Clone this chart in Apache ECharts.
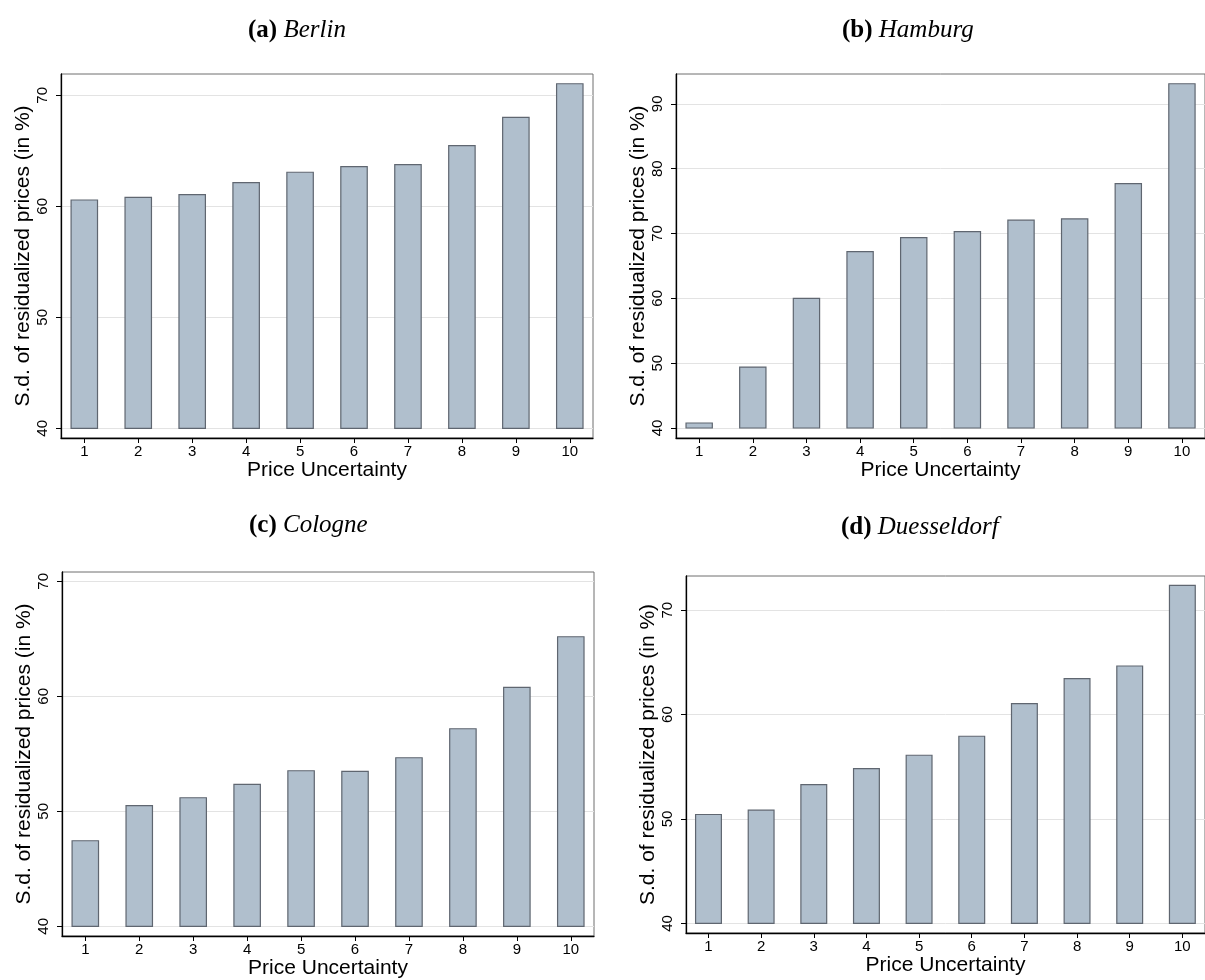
<!DOCTYPE html>
<html>
<head>
<meta charset="utf-8">
<script src="https://cdn.jsdelivr.net/npm/echarts@6/dist/echarts.min.js"></script>
<style>
html,body{margin:0;padding:0;background:#fff;}
#chart{width:1205px;height:980px;}
</style>
</head>
<body>
<div id="chart"></div>
<script>
// ---- Data ----
const categories = [1, 2, 3, 4, 5, 6, 7, 8, 9, 10];
const berlin      = [60.57, 60.81, 61.05, 62.13, 63.07, 63.57, 63.75, 65.46, 68.02, 71.04];
const hamburg     = [40.77, 49.40, 60.00, 67.21, 69.37, 70.29, 72.05, 72.25, 77.69, 93.10];
const cologne     = [47.44, 50.49, 51.18, 52.35, 53.53, 53.48, 54.66, 57.18, 60.78, 65.18];
const duesseldorf = [50.43, 50.85, 53.30, 54.83, 56.11, 57.93, 61.05, 63.44, 64.66, 72.38];
const yTicksBerlin = [40, 50, 60, 70];
const yTicksHamburg = [40, 50, 60, 70, 80, 90];
const yTicksCologne = [40, 50, 60, 70];
const yTicksDuesseldorf = [40, 50, 60, 70];
const xTicks = categories;
const barBase = 40;
const panelLetters = ['(a)', '(b)', '(c)', '(d)'];
const cityNames = ['Berlin', 'Hamburg', 'Cologne', 'Duesseldorf'];
const xTitle = 'Price Uncertainty';
const yTitle = 'S.d. of residualized prices (in %)';

// ---- Layout ----
const panels = [
  { data: berlin, ticks: yTicksBerlin, grid: {left: 61, top: 74, width: 532, height: 364}, y: [39.13, 71.92], x: [0.568, 10.43], title: {left: 243, top: 13} },
  { data: hamburg, ticks: yTicksHamburg, grid: {left: 676, top: 74, width: 532, height: 364}, y: [38.46, 94.6], x: [0.568, 10.43], title: {left: 837, top: 13} },
  { data: cologne, ticks: yTicksCologne, grid: {left: 62, top: 572, width: 532, height: 364}, y: [39.16, 70.81], x: [0.568, 10.43], title: {left: 244, top: 508} },
  { data: duesseldorf, ticks: yTicksDuesseldorf, grid: {left: 686, top: 576, width: 522, height: 357}, y: [39.08, 73.28], x: [0.573, 10.43], title: {left: 836, top: 510} }
];

const AXIS_FONT = 'Liberation Sans, Arial, sans-serif';
const chart = echarts.init(document.getElementById('chart'), null, {renderer: 'canvas'});

const option = {
  animation: false,
  backgroundColor: '#ffffff',
  title: panels.map((p, i) => ({
    left: p.title.left, top: p.title.top,
    text: '{b|' + panelLetters[i] + '} {i|' + cityNames[i] + '}',
    textStyle: {
      fontWeight: 'normal', fontFamily: 'Liberation Serif', fontSize: 25,
      rich: {
        b: {fontFamily: 'Liberation Serif', fontWeight: 'bold', fontSize: 25, color: '#000'},
        i: {fontFamily: 'Liberation Serif', fontStyle: 'italic', fontWeight: 'normal', fontSize: 25, color: '#000'}
      }
    }
  })),
  grid: panels.map(p => Object.assign({show: true, borderColor: '#6e6e6e', borderWidth: 1, backgroundColor: '#fff'}, p.grid)),
  xAxis: panels.map((p, i) => ({
    type: 'value', gridIndex: i, min: p.x[0], max: p.x[1],
    name: xTitle, nameLocation: 'middle', nameGap: 22,
    nameTextStyle: {fontFamily: AXIS_FONT, fontSize: 21, color: '#000'},
    axisLine: {show: true, onZero: false, lineStyle: {color: '#000', width: 1.3}},
    axisTick: {show: true, length: 5, customValues: xTicks, lineStyle: {color: '#000'}},
    axisLabel: {customValues: xTicks, fontFamily: AXIS_FONT, fontSize: 15, color: '#000', margin: 6},
    splitLine: {show: false}
  })),
  yAxis: panels.map((p, i) => ({
    type: 'value', gridIndex: i, min: p.y[0], max: p.y[1],
    name: yTitle, nameLocation: 'middle', nameGap: 27, nameRotate: 90,
    nameTextStyle: {fontFamily: AXIS_FONT, fontSize: 21, color: '#000'},
    axisLine: {show: true, onZero: false, lineStyle: {color: '#000', width: 1.3}},
    axisTick: {show: true, length: 5, customValues: p.ticks, lineStyle: {color: '#000'}},
    axisLabel: {customValues: p.ticks, rotate: 90, fontFamily: AXIS_FONT, fontSize: 15, color: '#000', margin: 11},
    splitLine: {show: true, lineStyle: {color: '#e3e3e3', width: 1}}
  })),
  series: panels.map((p, i) => ({
    type: 'custom', xAxisIndex: i, yAxisIndex: i,
    data: categories.map((c, k) => [c, p.data[k]]),
    renderItem: function (params, api) {
      const x = api.value(0), v = api.value(1);
      const top = api.coord([x, v]);
      const base = api.coord([x, barBase]);
      const w = api.size([0.49, 0])[0];
      return {
        type: 'rect',
        shape: {x: top[0] - w / 2, y: top[1], width: w, height: base[1] - top[1]},
        style: {fill: '#b0bfcd', stroke: '#5f6670', lineWidth: 1.2}
      };
    }
  }))
};
chart.setOption(option);
</script>
</body>
</html>
